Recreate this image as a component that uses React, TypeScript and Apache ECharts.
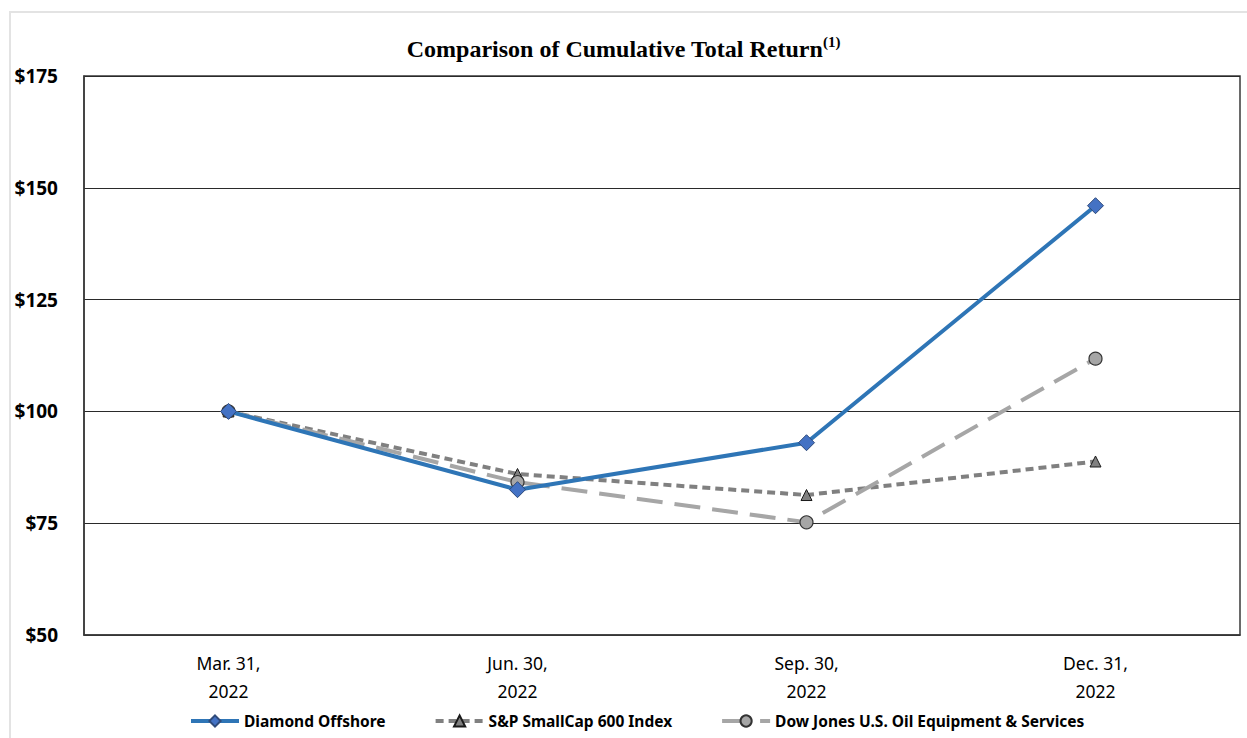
import React, { useEffect, useRef } from "react";
import * as echarts from "echarts";

const categories = ["Mar. 31,\n2022", "Jun. 30,\n2022", "Sep. 30,\n2022", "Dec. 31,\n2022"];
const diamondOffshore = [100, 82.5, 93, 146];
const spSmallCap = [100, 86, 81.3, 88.8];
const dowJonesOil = [100, 84.2, 75.2, 111.8];
const seriesNames = ["Diamond Offshore", "S&P SmallCap 600 Index", "Dow Jones U.S. Oil Equipment & Services"];

export default function App() {
  const ref = useRef<HTMLDivElement>(null);
  useEffect(() => {
    if (!ref.current) return;
    const chart = echarts.init(ref.current, null, { renderer: "svg" });
    chart.setOption({
      animation: false,
      backgroundColor: "#ffffff",
      title: {
        text: "{t|Comparison of Cumulative Total Return}{s|(1)}",
        left: "center",
        top: 29,
        textStyle: {
          rich: {
            t: { fontFamily: "Liberation Serif", fontWeight: "bold", fontSize: 24, color: "#000", verticalAlign: "bottom" },
            s: { fontFamily: "Liberation Serif", fontWeight: "bold", fontSize: 15, color: "#000", verticalAlign: "top", padding: [0, 0, 12, 0] },
          },
        },
      },
      graphic: [
        {
          type: "rect",
          shape: { x: 10, y: 12, width: 1260, height: 760 },
          style: { fill: "none", stroke: "#e3e3e3", lineWidth: 2 },
          silent: true,
        },
      ],
      grid: {
        left: 84,
        right: 7,
        top: 76,
        bottom: 103,
        show: true,
        borderColor: "#3a3a3a",
        borderWidth: 1.5,
      },
      legend: {
        bottom: 4,
        left: 184,
        itemWidth: 48,
        itemHeight: 14,
        itemGap: 48,
        lineStyle: { width: 4 },
        textStyle: { fontFamily: "Noto Sans", fontWeight: "bold", fontSize: 15.5, color: "#000" },
        data: seriesNames,
      },
      xAxis: {
        type: "category",
        data: categories,
        boundaryGap: true,
        axisLine: { show: true, lineStyle: { color: "#3a3a3a", width: 1.5 } },
        axisTick: { show: false },
        axisLabel: {
          fontFamily: "Noto Sans",
          fontSize: 17.5,
          color: "#000",
          lineHeight: 28,
          margin: 14,
          align: "center",
        },
      },
      yAxis: {
        type: "value",
        min: 50,
        max: 175,
        interval: 25,
        axisLine: { show: true, lineStyle: { color: "#3a3a3a", width: 1.5 } },
        axisTick: { show: false },
        splitLine: { show: true, lineStyle: { color: "#2a2a2a", width: 1.2 } },
        axisLabel: {
          fontFamily: "Noto Sans",
          fontWeight: "bold",
          fontSize: 19,
          color: "#000",
          margin: 26,
          formatter: (v: number) => "$" + v,
        },
      },
      series: [
        {
          name: seriesNames[0],
          type: "line",
          data: diamondOffshore,
          z: 5,
          lineStyle: { color: "#2e75b6", width: 4 },
          itemStyle: { color: "#4472c4", borderColor: "#2f4a7a", borderWidth: 1 },
          symbol: "diamond",
          symbolSize: 16,
          showAllSymbol: true,
        },
        {
          name: seriesNames[1],
          type: "line",
          data: spSmallCap,
          z: 3,
          lineStyle: { color: "#808080", width: 4, type: [8, 5] },
          itemStyle: { color: "#808080", borderColor: "#1a1a1a", borderWidth: 1 },
          symbol: "triangle",
          symbolSize: 11,
          showAllSymbol: true,
        },
        {
          name: seriesNames[2],
          type: "line",
          data: dowJonesOil,
          z: 4,
          lineStyle: { color: "#a6a6a6", width: 4, type: [26, 12] },
          itemStyle: { color: "#a6a6a6", borderColor: "#333333", borderWidth: 1.2 },
          symbol: "circle",
          symbolSize: 13,
          showAllSymbol: true,
        },
      ],
    });
    return () => chart.dispose();
  }, []);
  return (
    <div
      ref={ref}
      style={{ position: "fixed", left: 0, top: 0, width: 1247, height: 738 }}
    />
  );
}
